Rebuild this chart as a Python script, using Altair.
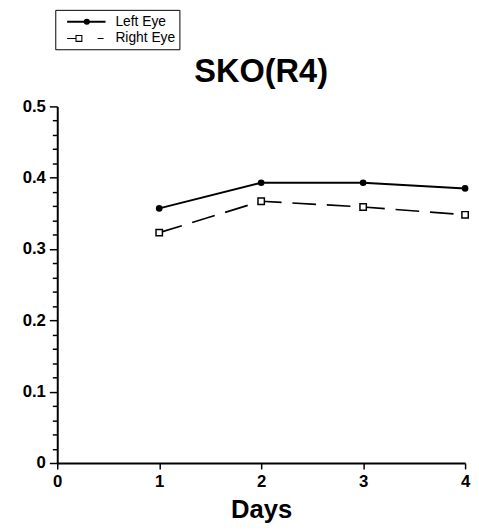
import altair as alt
import pandas as pd

# ---- data ----
days = [1, 2, 3, 4]
left_eye = [0.357, 0.393, 0.393, 0.385]
right_eye = [0.323, 0.367, 0.359, 0.348]
series_names = ["Left Eye", "Right Eye"]
x_ticks = [0, 1, 2, 3, 4]
y_major = [0, 0.1, 0.2, 0.3, 0.4, 0.5]
y_minor = [0.02, 0.04, 0.06, 0.08, 0.12, 0.14, 0.16, 0.18,
           0.22, 0.24, 0.26, 0.28, 0.32, 0.34, 0.36, 0.38,
           0.42, 0.44, 0.46, 0.48]
chart_title = "SKO(R4)"
x_title = "Days"

rows = []
for d, v in zip(days, left_eye):
    rows.append({"day": d, "value": v, "series": series_names[0]})
for d, v in zip(days, right_eye):
    rows.append({"day": d, "value": v, "series": series_names[1]})
df = pd.DataFrame(rows)

FONT = "Liberation Sans"

x_scale = alt.Scale(domain=[0, 4], nice=False, zero=False)
y_scale = alt.Scale(domain=[0, 0.5], nice=False)

x_axis = alt.Axis(values=x_ticks, format="d", title=x_title, tickSize=6,
                  labelFont=FONT, labelFontSize=17, labelFontWeight="bold",
                  labelPadding=5, labelFlush=False, titleFont=FONT,
                  titleFontSize=26, titleFontWeight="bold", titlePadding=7,
                  titleColor="black")
y_axis_major = alt.Axis(values=y_major, orient="left", tickSize=8, title=None,
                        labelExpr="datum.value == 0 ? '0' : format(datum.value, '.1f')",
                        labelFont=FONT, labelFontSize=17, labelFontWeight="bold",
                        labelPadding=4, labelFlush=False)
y_axis_minor = alt.Axis(values=y_minor, orient="left", tickSize=5, title=None,
                        labels=False, domain=False)

X = alt.X("day:Q", scale=x_scale, axis=x_axis)
Y_none = alt.Y("value:Q", scale=y_scale, axis=None)

base = alt.Chart(df)
left_data = base.transform_filter(f"datum.series == '{series_names[0]}'")
right_data = base.transform_filter(f"datum.series == '{series_names[1]}'")

left_line = left_data.mark_line(color="black", strokeWidth=2).encode(
    x=X, y=alt.Y("value:Q", scale=y_scale, axis=y_axis_major)
)
right_line = right_data.mark_line(color="black", strokeWidth=1.7, strokeDash=[24, 11]).encode(
    x=X, y=alt.Y("value:Q", scale=y_scale, axis=y_axis_minor)
)
left_pts = left_data.mark_point(
    shape="circle", filled=True, color="black", size=45, opacity=1
).encode(x=X, y=Y_none)
right_pts = right_data.mark_point(
    shape="square", fill="white", stroke="black", strokeWidth=1.5, size=42, opacity=1, filled=True
).encode(x=X, y=Y_none)

# legend glyphs: line + marker (units of 7 px, drawn right of the symbol anchor)
path_left = "M0,0L5.57,0M3.16,0A0.3,0.3,0,1,1,2.56,0A0.3,0.3,0,1,1,3.16,0Z"
path_right = "M0,0L1.29,0M1.29,-0.43L2.14,-0.43L2.14,0.43L1.29,0.43ZM4.43,0L5.29,0"

leg = alt.Legend(title=None, orient="none", legendX=-2, legendY=-98, padding=4,
                 strokeColor="black", fillColor="white", symbolSize=196,
                 symbolStrokeColor="black", symbolStrokeWidth=1.2,
                 labelFont=FONT, labelFontSize=14, labelColor="black",
                 labelOffset=41, rowPadding=2, cornerRadius=0)

legend_layer = base.mark_point(
    filled=True, opacity=1, size=0
).encode(
    x=X, y=Y_none,
    shape=alt.Shape("series:N", scale=alt.Scale(domain=series_names, range=[path_left, path_right]), legend=leg),
    fill=alt.Fill("series:N", scale=alt.Scale(domain=series_names, range=["black", "white"]), legend=leg),
    stroke=alt.Stroke("series:N", scale=alt.Scale(domain=series_names, range=["black", "black"]), legend=leg),
    strokeWidth=alt.StrokeWidth("series:N", scale=alt.Scale(domain=series_names, range=[2, 1.1]), legend=leg),
)

chart = alt.layer(left_line, right_line, left_pts, right_pts, legend_layer).resolve_axis(
    y="independent"
).properties(
    width=414, height=362,
    title=alt.TitleParams(chart_title, font=FONT, fontSize=33, fontWeight="bold",
                          anchor="middle", offset=-81, color="black"),
    autosize=alt.AutoSizeParams(type="none"),
    padding={"left": 50, "top": 96, "right": 6, "bottom": 57},
).configure_view(stroke=None).configure_axis(
    domainColor="black", domainWidth=2, tickColor="black", tickWidth=1.5,
    labelColor="black", grid=False,
)

chart.save("out.html", embed_options={"renderer": "svg", "actions": False})
